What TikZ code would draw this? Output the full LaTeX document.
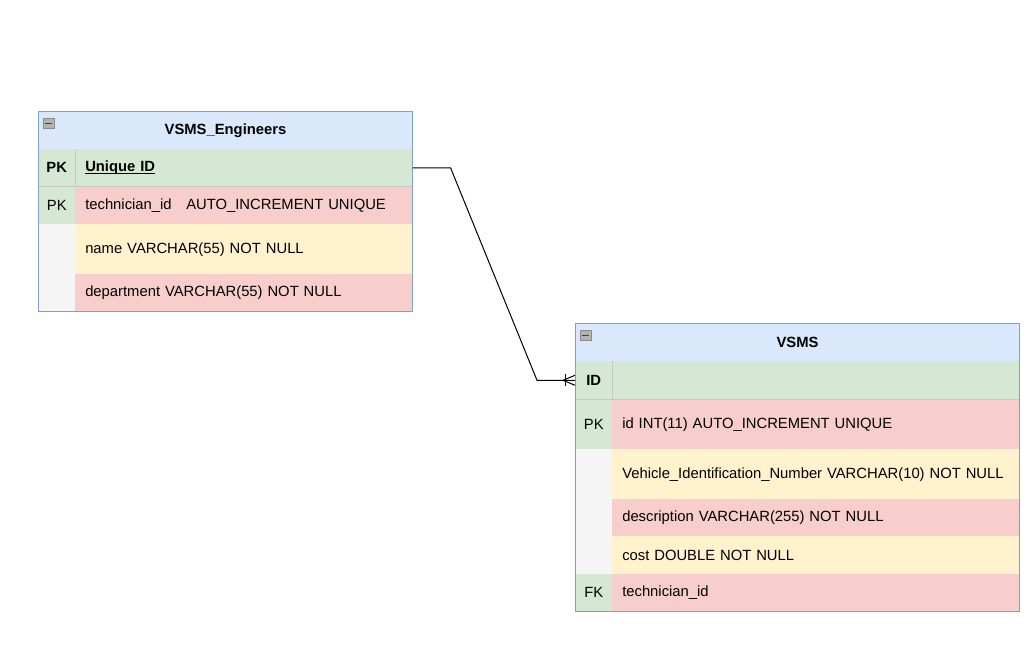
\documentclass[tikz,border=0pt]{standalone}
\usepackage{fontspec}
\setmainfont{Liberation Sans}
\usetikzlibrary{positioning}
\definecolor{hdrblue}{HTML}{DAE8FC}
\definecolor{tblblue}{HTML}{6C8EBF}
\definecolor{pkgreen}{HTML}{D5E8D4}
\definecolor{rowred}{HTML}{F8CECC}
\definecolor{rowyellow}{HTML}{FFF2CC}
\definecolor{keygray}{HTML}{F5F5F5}
\newcommand\erfont{\fontsize{11.1}{13.3}\selectfont}
\newcommand\keyline[1]{\setbox0\hbox{#1}\rlap{\rule[-1.6pt]{\wd0}{0.8pt}}\box0}
\tikzset{
  hdr/.style={anchor=north west, fill=hdrblue, draw=tblblue, line width=0.75pt,
    inner sep=0pt, minimum height=28.5pt, font=\erfont\bfseries},
  keycell/.style={anchor=north west, inner sep=0pt, minimum width=27.75pt},
  fieldcell/.style={anchor=north west, inner xsep=7.5pt, inner ysep=0pt,
    text width=#1, align=left},
  sepline/.style={draw=black!22, line width=0.75pt},
  tblline/.style={draw=tblblue!85, line width=0.75pt},
  collapse/.style={anchor=north west, inner sep=0pt, minimum width=8.25pt,
    minimum height=7.5pt, fill=black!30, draw=black!45, line width=0.5pt},
  link/.style={line width=0.75pt}
}
\begin{document}
\begin{tikzpicture}[x=0.75pt, y=-0.75pt, font=\erfont]
  \useasboundingbox (0,0) rectangle (1031,661);

  % VSMS_Engineers
  \node[hdr, minimum width=280.5pt] (engHead) at (38,111) {VSMS\_Engineers};
  \node[collapse] (engFold) at (43,118) {};
  \draw[black!75, line width=0.9pt] (engFold.west) ++(1.5pt,0) -- ++(5.25pt,0);
  \node[keycell, fill=pkgreen, minimum height=27.75pt, font=\erfont\bfseries] (engKeyUid) at (38,149) {PK};
  \node[fieldcell=237.75pt, fill=pkgreen, minimum height=27.75pt] (engUid) at (75,149)
    {\keyline{\bfseries Unique ID}};
  \node[keycell, fill=pkgreen, minimum height=28.5pt] (engKeyTech) at (38,186) {PK};
  \node[fieldcell=237.75pt, fill=rowred, minimum height=28.5pt] (engTech) at (75,186)
    {technician\_id\hspace{11pt}AUTO\_INCREMENT UNIQUE};
  \node[keycell, fill=keygray, minimum height=37.5pt] (engKeyName) at (38,224) {};
  \node[fieldcell=237.75pt, fill=rowyellow, minimum height=37.5pt] (engName) at (75,224)
    {name VARCHAR(55) NOT NULL};
  \node[keycell, fill=keygray, minimum height=27.75pt] (engKeyDept) at (38,274) {};
  \node[fieldcell=237.75pt, fill=rowred, minimum height=27.75pt] (engDept) at (75,274)
    {department VARCHAR(55) NOT NULL};
  \draw[sepline] (engKeyUid.south west) -- (engUid.south east);
  \draw[sepline] (engKeyUid.north east) -- (engKeyUid.south east);
  \draw[tblline] (engHead.north west) rectangle (engDept.south east);

  % VSMS
  \node[hdr, minimum width=333pt] (vsmsHead) at (575,323) {VSMS};
  \node[collapse] (vsmsFold) at (580,330) {};
  \draw[black!75, line width=0.9pt] (vsmsFold.west) ++(1.5pt,0) -- ++(5.25pt,0);
  \node[keycell, fill=pkgreen, minimum height=28.5pt, font=\erfont\bfseries] (vsmsKeyId) at (575,361) {ID};
  \node[fieldcell=290.25pt, fill=pkgreen, minimum height=28.5pt] (vsmsId) at (612,361) {};
  \node[keycell, fill=pkgreen, minimum height=37.5pt] (vsmsKeyPk) at (575,399) {PK};
  \node[fieldcell=290.25pt, fill=rowred, minimum height=37.5pt] (vsmsPk) at (612,399)
    {id INT(11) AUTO\_INCREMENT UNIQUE};
  \node[keycell, fill=keygray, minimum height=37.5pt] (vsmsKeyVin) at (575,449) {};
  \node[fieldcell=290.25pt, fill=rowyellow, minimum height=37.5pt] (vsmsVin) at (612,449)
    {Vehicle\_Identification\_Number VARCHAR(10) NOT NULL};
  \node[keycell, fill=keygray, minimum height=27.75pt] (vsmsKeyDesc) at (575,499) {};
  \node[fieldcell=290.25pt, fill=rowred, minimum height=27.75pt] (vsmsDesc) at (612,499)
    {description VARCHAR(255) NOT NULL};
  \node[keycell, fill=keygray, minimum height=28.5pt] (vsmsKeyCost) at (575,536) {};
  \node[fieldcell=290.25pt, fill=rowyellow, minimum height=28.5pt] (vsmsCost) at (612,536)
    {cost DOUBLE NOT NULL};
  \node[keycell, fill=pkgreen, minimum height=27.75pt] (vsmsKeyFk) at (575,574) {FK};
  \node[fieldcell=290.25pt, fill=rowred, minimum height=27.75pt] (vsmsFk) at (612,574)
    {technician\_id};
  \draw[sepline] (vsmsKeyId.south west) -- (vsmsId.south east);
  \draw[sepline] (vsmsKeyId.north east) -- (vsmsKeyId.south east);
  \draw[tblline] (vsmsHead.north west) rectangle (vsmsFk.south east);

  % relation
  \draw[link] (engUid.east) -- ++(28.5pt,0) -- ([xshift=-28.5pt]vsmsKeyId.west) -- (vsmsKeyId.west);
  \draw[link] ([xshift=-7.5pt]vsmsKeyId.west) ++(0,4.5pt) -- ++(0,-9pt);
  \draw[link] ([xshift=-9pt]vsmsKeyId.west) -- ([yshift=3.75pt]vsmsKeyId.west);
  \draw[link] ([xshift=-9pt]vsmsKeyId.west) -- ([yshift=-3.75pt]vsmsKeyId.west);
\end{tikzpicture}
\end{document}
